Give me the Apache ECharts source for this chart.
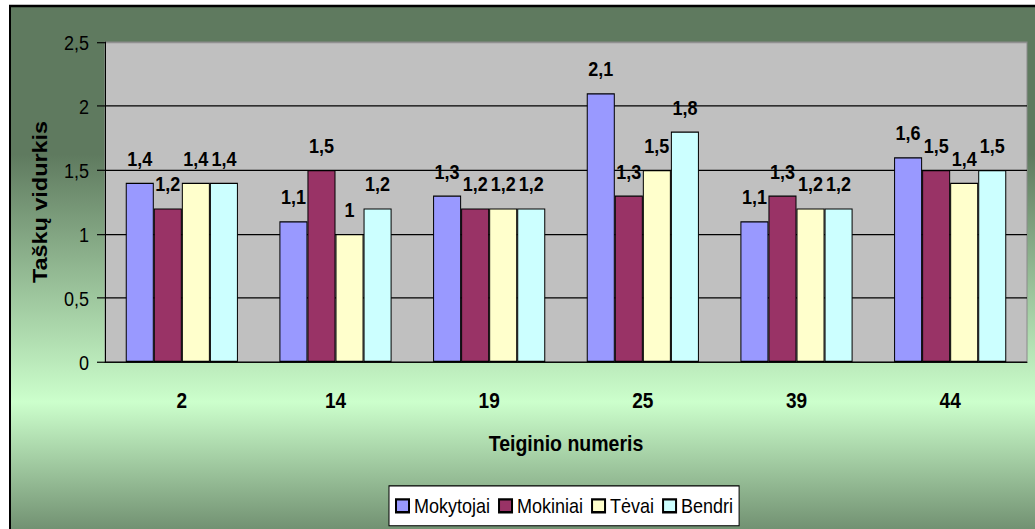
<!DOCTYPE html>
<html>
<head>
<meta charset="utf-8">
<script src="https://cdn.jsdelivr.net/npm/echarts@6/dist/echarts.min.js"></script>
<style>
  html, body { margin: 0; padding: 0; background: #ffffff; width: 1035px; height: 529px; overflow: hidden; }
  #frame { position: relative; width: 1035px; height: 529px; overflow: hidden; }
  /* the chart is laid out 452px tall and stretched to 529px, giving the tall, narrow lettering */
  #chart { position: absolute; left: 0; top: 0; width: 1035px; height: 452px; transform: scale(1, 1.1704); transform-origin: 0 0; }
</style>
</head>
<body>
<div id="frame"><div id="chart"></div></div>
<script>
// Statement numbers on the category axis
const categories = ['2', '14', '19', '25', '39', '44'];

// Average score per respondent group
const mokytojai = [1.4, 1.1, 1.3, 2.1, 1.1, 1.6];
const mokiniai  = [1.2, 1.5, 1.2, 1.3, 1.3, 1.5];
const tevai     = [1.4, 1.0, 1.2, 1.5, 1.2, 1.4];
const bendri    = [1.4, 1.2, 1.2, 1.8, 1.2, 1.5];

const seriesNames = ['Mokytojai', 'Mokiniai', 'Tėvai', 'Bendri'];
const seriesData = [mokytojai, mokiniai, tevai, bendri];
const seriesColors = ['#9999FF', '#993366', '#FFFFCC', '#CCFFFF'];

const FONT = '"Liberation Sans", Arial, sans-serif';
const comma = v => String(v).replace('.', ',');

const chart = echarts.init(document.getElementById('chart'), null, { renderer: 'svg' });

const option = {
  backgroundColor: '#ffffff',
  animation: false,
  textStyle: { fontFamily: FONT, color: '#000' },
  graphic: [{
    type: 'rect',
    z: -10,
    silent: true,
    shape: { x: 10, y: 5.1, width: 1040, height: 470 },
    style: {
      fill: new echarts.graphic.LinearGradient(0, 0, 0, 1, [
        { offset: 0, color: '#5F7A5F' },
        { offset: 0.27, color: '#5F7A5F' },
        { offset: 0.72, color: '#CCFFCC' },
        { offset: 1, color: '#5F7A5F' }
      ]),
      stroke: '#000',
      lineWidth: 2
    }
  }],
  grid: {
    left: 105, top: 35.9, right: 8, bottom: 142.7,
    show: true,
    backgroundColor: '#C0C0C0',
    borderColor: '#8a8a8a',
    borderWidth: 1
  },
  legend: {
    data: seriesNames,
    icon: 'rect',
    left: 389,
    top: 415.2,
    backgroundColor: '#ffffff',
    borderColor: '#000',
    borderWidth: 1,
    padding: [8, 6, 8, 6],
    itemGap: 8,
    itemWidth: 13,
    itemHeight: 11,
    textStyle: { fontFamily: FONT, fontSize: 18, color: '#000' }
  },
  xAxis: {
    type: 'category',
    data: categories,
    name: 'Teiginio numeris',
    nameLocation: 'middle',
    nameGap: 59,
    nameTextStyle: { fontFamily: FONT, fontSize: 19.5, fontWeight: 'bold', color: '#000' },
    axisLine: { lineStyle: { color: '#000', width: 1 } },
    axisTick: { length: 7, lineStyle: { color: '#000' } },
    axisLabel: { fontFamily: FONT, fontSize: 19, fontWeight: 'bold', color: '#000', margin: 23 },
    splitLine: { show: false }
  },
  yAxis: {
    type: 'value',
    min: 0,
    max: 2.5,
    interval: 0.5,
    name: 'Taškų vidurkis',
    nameLocation: 'middle',
    nameGap: 55,
    nameTextStyle: { fontFamily: FONT, fontSize: 20, fontWeight: 'bold', color: '#000' },
    axisLine: { show: true, lineStyle: { color: '#000', width: 1 } },
    axisTick: { show: true, length: 8, lineStyle: { color: '#000' } },
    axisLabel: { fontFamily: FONT, fontSize: 18, color: '#000', margin: 16, formatter: v => comma(v) },
    splitLine: { show: true, lineStyle: { color: ['#000', '#000', '#000', '#000', '#000', '#8a8a8a'], width: 1 } }
  },
  series: seriesNames.map((name, i) => ({
    name,
    type: 'bar',
    data: seriesData[i],
    barGap: '0%',
    barCategoryGap: '27%',
    itemStyle: { color: seriesColors[i], borderColor: '#000', borderWidth: 1 },
    label: {
      show: true,
      position: 'top',
      distance: 12,
      fontFamily: FONT,
      fontSize: 18,
      fontWeight: 'bold',
      color: '#000',
      formatter: p => comma(p.value)
    }
  }))
};

chart.setOption(option);
</script>
</body>
</html>
